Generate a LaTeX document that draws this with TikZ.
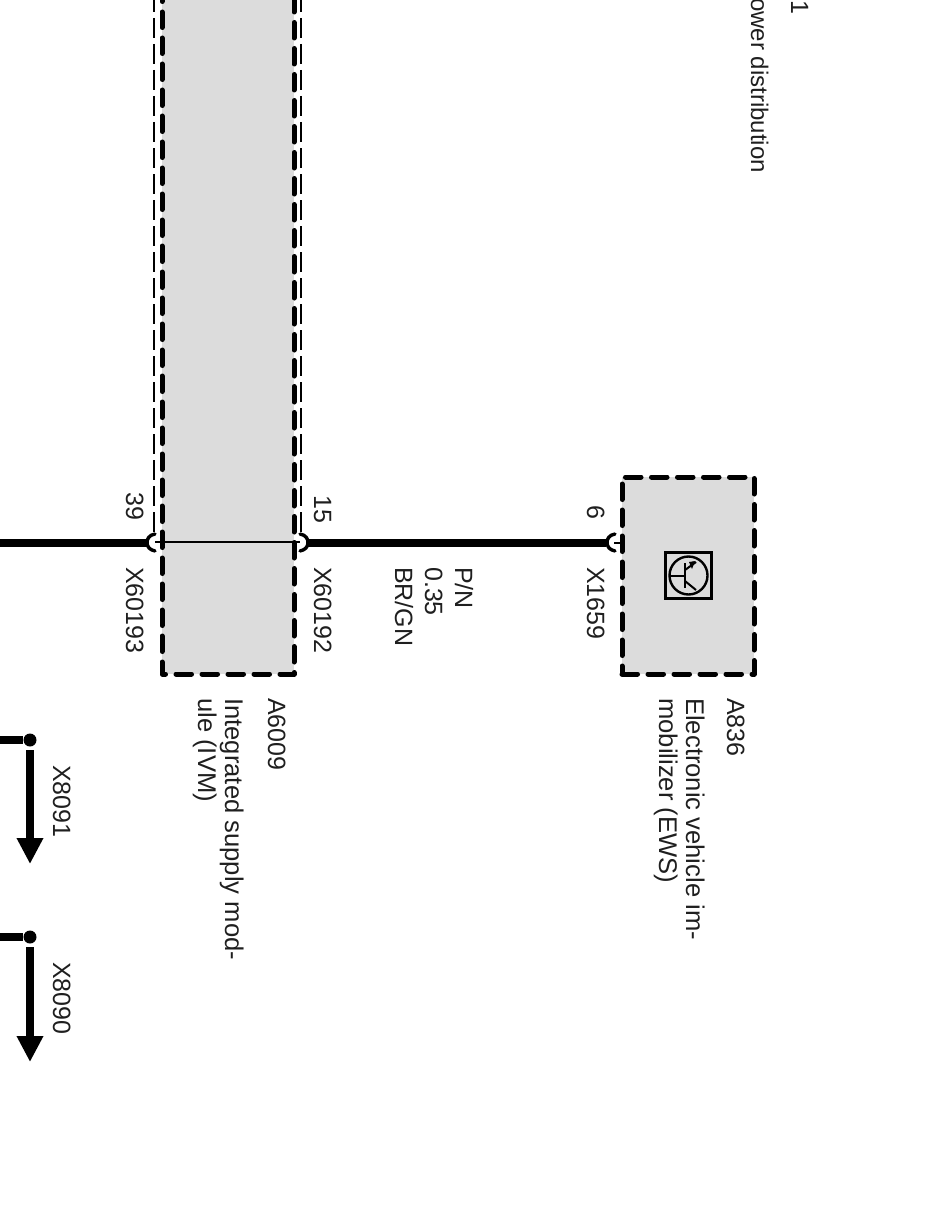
\documentclass[tikz,border=0pt]{standalone}
\usepackage{fontspec}
\setmainfont{Liberation Sans}
\usetikzlibrary{arrows.meta}
\definecolor{boxgrey}{HTML}{DCDCDC}
\definecolor{ink}{HTML}{000000}
\tikzset{
  x=1pt,y=-1pt,
  lbl/.style={rotate=-90,anchor=base west,inner sep=0pt,font=\fontsize{25}{25}\selectfont,text=ink!88},
  lbllong/.style={lbl,font=\fontsize{25.6}{25.6}\selectfont},
  lblshort/.style={lbl,font=\fontsize{24}{24}\selectfont},
  modulebox/.style={fill=boxgrey,draw=ink,line width=5pt,line cap=round,dash pattern=on 15.5pt off 10.5pt,line join=round},
  shield/.style={draw=ink,line width=2pt,dash pattern=on 20pt off 6pt},
  wire/.style={draw=ink,line width=8.5pt},
  thinwire/.style={draw=ink,line width=2.4pt},
  hook/.style={draw=ink,line width=3.4pt,line cap=round},
  dot/.style={circle,fill=ink,inner sep=0pt,minimum size=13pt},
  downarrow/.style={draw=ink,line width=8.5pt,-{Triangle[length=26pt,width=25pt]}},
}
\begin{document}
\begin{tikzpicture}
\useasboundingbox (0,0) rectangle (944,1228);
\begin{scope}
\clip (0,0) rectangle (944,1228);
% module A6009
\fill[boxgrey] (162,-14) rectangle (294,674);
\draw[modulebox,fill=none] (162,-14) -- (162,674) -- (294,674) -- (294,-14);
\draw[shield] (154,-8) coordinate (sl) -- (154,534) coordinate (slend);
\draw[shield] (301,-8) coordinate (sr) -- (301,534) coordinate (srend);
% module A836
\node[modulebox,minimum width=132pt,minimum height=197pt,inner sep=0pt,outer sep=0pt,anchor=north west] (ews) at (622,477) {};
% transistor
\node[draw=ink,line width=2.4pt,minimum size=46pt,inner sep=0pt,outer sep=0pt] (tbox) at (688.5,575.5) {};
\node[draw=ink,circle,line width=2.4pt,minimum size=38pt,inner sep=0pt,outer sep=0pt] (tcirc) at (688.5,575.5) {};
\draw[ink,line width=2pt] (tcirc.west) -- (685,575.5);
\draw[ink,line width=2.4pt] (685,563) -- (685,588);
\draw[ink,line width=2pt] (685,570) -- (696,562);
\draw[ink,line width=2pt] (685,581) -- (696,590);
\fill[ink] (689,562) -- (695,561) -- (692,569) -- cycle;
% connection points
\coordinate (c39) at (147,543);
\coordinate (c15) at (308,543);
\coordinate (c6) at (606,543);
\coordinate (wl) at (0,543);
\draw[wire] (wl) -- (c39);
\draw[wire] (c15) -- (c6);
\draw[thinwire] (155,542) -- (300,542);
\draw[hook] (155,534) .. controls (149,535) and (147,539) .. (147,542.5) .. controls (147,547) and (150,550) .. (155,551);
\draw[hook] (300,534) .. controls (306,535) and (308,539) .. (308,542.5) .. controls (308,547) and (305,550) .. (300,551);
\draw[hook] (615,534) .. controls (609,535) and (607,539) .. (607,542.5) .. controls (607,547) and (610,550) .. (615,551);
\draw[ink,line width=2pt] (614,542.5) -- (622,542.5) -- (622,538);
% arrows
\node[dot] (d1) at (30,740) {};
\node[dot] (d2) at (30,937) {};
\coordinate (a1) at (30,864);
\coordinate (a2) at (30,1062);
\coordinate (w1) at (0,740);
\coordinate (w2) at (0,937);
\draw[wire] (w1) -- (d1);
\draw[wire] (w2) -- (d2);
\draw[downarrow] (30,750) -- (a1);
\draw[downarrow] (30,947) -- (a2);
% labels
\node[lbl] (t39) at (126,492) {39};
\node[lbl] (tx193) at (126,567) {X60193};
\node[lbl] (t15) at (314,495) {15};
\node[lbl] (tx192) at (314,567) {X60192};
\node[lbl] (tpn) at (455,567) {P/N};
\node[lbl] (t035) at (425,567) {0.35};
\node[lbl] (tbr) at (395,567) {BR/GN};
\node[lbl] (t6) at (587,505) {6};
\node[lbl] (tx1659) at (587,567) {X1659};
\node[lbl] (ta836) at (727,698) {A836};
\node[lbllong] (te1) at (686,698) {Electronic vehicle im-};
\node[lbllong] (te2) at (659,698) {mobilizer (EWS)};
\node[lbl] (ta6009) at (268,698) {A6009};
\node[lbllong] (ti1) at (225,698) {Integrated supply mod-};
\node[lbllong] (ti2) at (198,698) {ule (IVM)};
\node[lbl] (tx8091) at (53,765) {X8091};
\node[lbl] (tx8090) at (53,962) {X8090};
\node[lblshort,anchor=base east] (tpow) at (751,173) {ower distribution};
\node[lbl,anchor=base east] (t41) at (791,15) {41};
\end{scope}
\end{tikzpicture}
\end{document}
